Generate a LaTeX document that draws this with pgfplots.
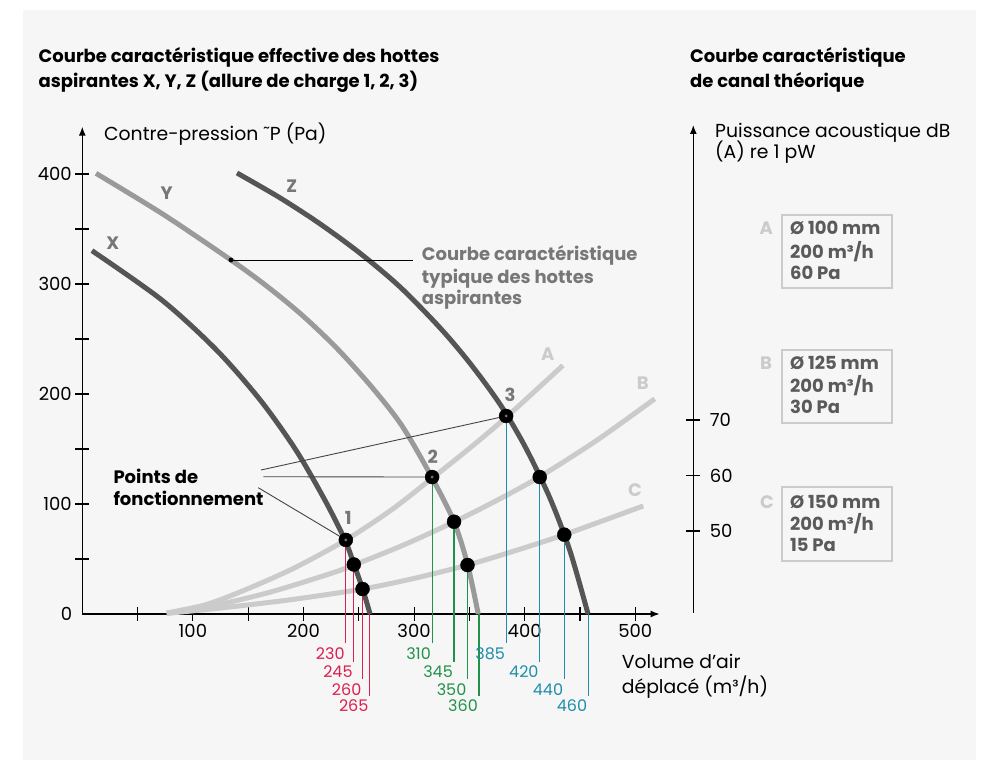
\documentclass[border=0pt]{standalone}
\usepackage{fontspec}
\setmainfont{Poppins}
\usepackage{pgfplots}
\pgfplotsset{compat=1.18}
\usetikzlibrary{arrows.meta}
\definecolor{panel}{HTML}{F6F6F6}
\definecolor{dk}{HTML}{555555}
\definecolor{md}{HTML}{9A9A9A}
\definecolor{lt}{HTML}{CBCBCB}
\definecolor{lab}{HTML}{777777}
\definecolor{rd}{HTML}{DC1F4E}
\definecolor{gr}{HTML}{21924A}
\definecolor{bl}{HTML}{1E8EAA}
\definecolor{boxt}{HTML}{5A5A5A}
\definecolor{lead}{HTML}{444444}
\newcommand{\fs}{\fontsize{18}{21}\selectfont}
\newcommand{\fr}{\fontsize{18.8}{22}\selectfont}
\newcommand{\fb}{\fontsize{18}{21}\selectfont\bfseries}
\newcommand{\fn}{\fontsize{16}{20}\selectfont}
\begin{document}
\begin{tikzpicture}[x=1pt,y=1pt]
\fill[white] (0,0) rectangle (985,760);
\fill[panel] (23,0) rectangle (976,750);
\begin{axis}[at={(82.3pt,146pt)}, anchor=south west, scale only axis,
  width=577.3pt, height=487.3pt, xmin=0, xmax=522, ymin=0, ymax=443,
  axis lines=left, clip=false,
  axis line style={line width=1.2pt, -{Latex[length=9pt,width=7pt]}},
  tick style={black, line width=1.1pt}, major tick length=14pt, minor tick length=14pt,
  tick align=center,
  xtick={100,200,300,400,500}, minor xtick={50,150,250,350,450},
  ytick={100,200,300,400}, minor ytick={50,150,250,350},
  ticklabel style={font=\fs},
  /pgf/number format/assume math mode=true,
  ]
% system curves A, B, C
\addplot[lt, line width=5pt, smooth] coordinates {(76.3,1) (110,8) (142.6,20) (190,41) (238.3,67.3) (280,95) (316.3,123.5) (350,150.5) (382.9,178.5) (434.6,226)};
\addplot[lt, line width=5pt, smooth] coordinates {(76.3,0.5) (120,7.9) (170,19.9) (224,36.6) (245.5,44.5) (290,62.5) (336.1,83.7) (374.7,103.2) (413.3,124.6) (465.1,157.8) (517.6,195.6)};
\addplot[lt, line width=5pt, smooth] coordinates {(76.3,0.5) (130,6) (190,13.2) (253.2,22.7) (299.3,32.2) (348.3,44.5) (389.7,57) (435.8,72.1) (507.2,98.2)};
% hood curves X, Y, Z
\addplot[dk, line width=5pt, smooth] coordinates {(8.7,330.3) (71.8,285.5) (121.3,240) (160.9,194.5) (193.1,149.1) (219.3,103.6) (237.5,67.3) (245.7,45) (253.5,22.7) (260.2,0)};
\addplot[md, line width=5pt, smooth] coordinates {(12.4,400.6) (73.0,363.4) (134.4,321.8) (166.6,298.2) (198.6,271.8) (230.8,240.9) (263.1,204.7) (289.5,170.4) (315.9,124.5) (336.1,83.9) (348.5,44.5) (358.0,0)};
\addplot[dk, line width=5pt, smooth] coordinates {(139.9,400.9) (178.8,378.3) (214.9,354.7) (251.1,328.0) (287.3,297.3) (323.4,260.2) (350.5,228.0) (377.7,190.7) (400.3,152.3) (422.9,105.2) (441.0,57.2) (457.3,0)};
% drop lines
\addplot[rd, line width=1.2pt] coordinates {(238.3,67.3) (238.3,-26.6)};
\addplot[rd, line width=1.2pt] coordinates {(245.5,45) (245.5,-43.4)};
\addplot[rd, line width=1.2pt] coordinates {(253.4,22.7) (253.4,-59.4)};
\addplot[rd, line width=1.2pt] coordinates {(259.8,0) (259.8,-74.5)};
\addplot[gr, line width=1.2pt] coordinates {(316.3,124.5) (316.3,-26.6)};
\addplot[gr, line width=1.2pt] coordinates {(336.1,83.9) (336.1,-43.4)};
\addplot[gr, line width=1.2pt] coordinates {(348.3,44.5) (348.3,-59.4)};
\addplot[gr, line width=1.2pt] coordinates {(358.7,0) (358.7,-74.5)};
\addplot[bl, line width=1.2pt] coordinates {(383.2,180) (383.2,-26.6)};
\addplot[bl, line width=1.2pt] coordinates {(413.6,124.5) (413.6,-43.4)};
\addplot[bl, line width=1.2pt] coordinates {(435.8,72.1) (435.8,-59.4)};
\addplot[bl, line width=1.2pt] coordinates {(457.5,0) (457.5,-74.5)};
% leader lines
\addplot[lead, line width=0.9pt] coordinates {(161.6,130.9) (383.2,180)};
\addplot[lead, line width=0.9pt] coordinates {(163.7,124.8) (316.3,124.5)};
\addplot[lead, line width=0.9pt] coordinates {(159.1,114.8) (238.3,67.3)};
\addplot[black, line width=1pt] coordinates {(134.4,321.8) (299.3,321.8)};
\addplot[only marks, mark=*, mark size=2.2pt, black] coordinates {(134.4,321.8)};
% operating points
\addplot[only marks, mark=*, mark size=7pt, black] coordinates {(238.3,67.3) (245.5,45) (253.4,22.7) (316.3,124.5) (336.1,83.9) (348.3,44.5) (383.2,180) (413.6,124.5) (435.8,72.1)};
\addplot[only marks, mark=*, mark size=1.3pt, lab, mark options={draw=lab}] coordinates {(238.3,67.3) (316.3,124.5) (383.2,180)};
% drop labels
\begin{scope}[every node/.style={font=\fn, inner sep=0pt, anchor=north east, xshift=-1pt, yshift=-4pt}]
\node[text=rd] at (axis cs:238.3,-26.6) {230};
\node[text=rd] at (axis cs:245.5,-43.4) {245};
\node[text=rd] at (axis cs:253.4,-59.4) {260};
\node[text=rd] at (axis cs:259.8,-74.5) {265};
\node[text=gr] at (axis cs:316.3,-26.6) {310};
\node[text=gr] at (axis cs:336.1,-43.4) {345};
\node[text=gr] at (axis cs:348.3,-59.4) {350};
\node[text=gr] at (axis cs:358.7,-74.5) {360};
\node[text=bl] at (axis cs:383.2,-26.6) {385};
\node[text=bl] at (axis cs:413.6,-43.4) {420};
\node[text=bl] at (axis cs:435.8,-59.4) {440};
\node[text=bl] at (axis cs:457.5,-74.5) {460};
\end{scope}
\node[font=\fs, anchor=east, inner sep=0pt] at (axis cs:-9,0) {0};
\end{axis}
% right axis
\begin{axis}[at={(693.3pt,147pt)}, anchor=south east, scale only axis,
  width=1pt, height=488pt, xmin=0, xmax=1, ymin=35.23, ymax=123.15,
  axis y line=right, axis x line=none,
  axis line style={line width=1.2pt, -{Latex[length=9pt,width=7pt]}},
  tick style={black, line width=1.1pt}, major tick length=14pt, tick align=center,
  ytick={50,60,70}, ticklabel style={font=\fs},
  yticklabel style={xshift=6pt},
  /pgf/number format/assume math mode=true,
  ]
\end{axis}
% texts (px coordinates: y = 760 - py)
\begin{scope}[every node/.style={inner sep=0pt, anchor=base west}]
\node[font=\fb] at (38.5,697.7) {Courbe caractéristique effective des hottes};
\node[font=\fb] at (38.5,672.3) {aspirantes X, Y, Z (allure de charge 1, 2, 3)};
\node[font=\fb] at (690,697.7) {Courbe caractéristique};
\node[font=\fb] at (690,672.7) {de canal théorique};
\node[font=\fr] at (104,619.3) {Contre-pression ˜P (Pa)};
\node[font=\fr] at (715,622.7) {Puissance acoustique dB};
\node[font=\fr] at (715,601.7) {(A) re 1 pW};
\node[font=\fb, text=lab] at (421.7,499.3) {Courbe caractéristique};
\node[font=\fb, text=lab] at (421.7,476.7) {typique des hottes};
\node[font=\fb, text=lab] at (421.7,455) {aspirantes};
\node[font=\fb] at (113.3,276.7) {Points de};
\node[font=\fb] at (113.3,254) {fonctionnement};
\node[font=\fr] at (621.7,91.7) {Volume d’air};
\node[font=\fr] at (621.7,66.7) {déplacé (m³/h)};
% boxes
\draw[lt, line width=2.2pt] (781.7,545) rectangle (891.7,471.7);
\draw[lt, line width=2.2pt] (781.7,410) rectangle (891.7,336.7);
\draw[lt, line width=2.2pt] (781.7,272.7) rectangle (891.7,199.3);
\node[font=\fb, text=lt] at (759.3,525) {A};
\node[font=\fb, text=boxt] at (790,525) {Ø 100 mm};
\node[font=\fb, text=boxt] at (790,501.7) {200 m³/h};
\node[font=\fb, text=boxt] at (790,480.7) {60 Pa};
\node[font=\fb, text=lt] at (760,390.7) {B};
\node[font=\fb, text=boxt] at (790,390.7) {Ø 125 mm};
\node[font=\fb, text=boxt] at (790,367.3) {200 m³/h};
\node[font=\fb, text=boxt] at (790,346) {30 Pa};
\node[font=\fb, text=lt] at (760,251.7) {C};
\node[font=\fb, text=boxt] at (790,251.7) {Ø 150 mm};
\node[font=\fb, text=boxt] at (790,229) {200 m³/h};
\node[font=\fb, text=boxt] at (790,208.3) {15 Pa};
\end{scope}
\begin{scope}[every node/.style={inner sep=0pt, font=\fb}]
\node[text=lab] at (112.7,516.7) {X};
\node[text=lab] at (166.7,566.7) {Y};
\node[text=lab] at (291.7,574) {Z};
\node[text=lt] at (547.7,406) {A};
\node[text=lt] at (642.7,376.7) {B};
\node[text=lt] at (635,270) {C};
\node[text=lab] at (348.3,241.7) {1};
\node[text=lab] at (432.7,303.3) {2};
\node[text=lab] at (510,365) {3};
\end{scope}
\end{tikzpicture}
\end{document}
